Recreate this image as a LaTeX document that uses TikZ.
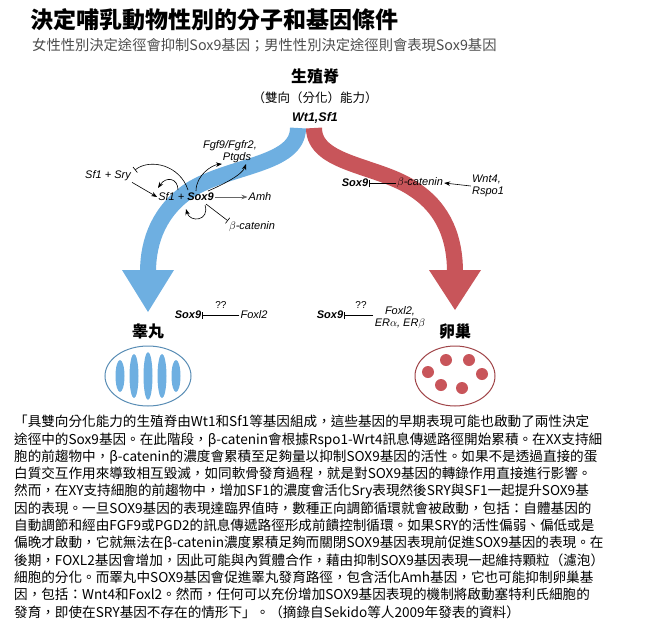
\documentclass[tikz,border=0pt]{standalone}
\usepackage{fontspec}
\setsansfont{Liberation Sans}
\newfontfamily\cjk{Noto Sans CJK TC}
\usetikzlibrary{arrows.meta}
\definecolor{testisblue}{RGB}{110,175,225}
\definecolor{ovaryred}{RGB}{200,85,90}
\tikzset{
  gene/.style={font=\sffamily\itshape\fontsize{11}{12}\selectfont, inner sep=1pt},
  reg/.style={-{Stealth[length=6pt]}, line width=.6pt},
  blocked/.style={-{Bar[width=7pt]}, line width=.6pt},
}
\begin{document}
\begin{tikzpicture}[x=1pt,y=-1pt]
  \useasboundingbox (0,0) rectangle (657,643);

  % headings
  \node[anchor=west, font=\cjk\bfseries\fontsize{23}{25}\selectfont, inner sep=0] (title) at (30,20) {決定哺乳動物性別的分子和基因條件};
  \node[anchor=west, font=\cjk\fontsize{14.3}{16}\selectfont, text=black!70, inner sep=0] (sub) at (32,45) {女性性別決定途徑會抑制Sox9基因；男性性別決定途徑則會表現Sox9基因};

  \node[font=\cjk\bfseries\fontsize{16}{18}\selectfont] (ridge) at (315,76) {生殖脊};
  \node[font=\cjk\fontsize{12.5}{14}\selectfont] (bip) at (315,98) {（雙向（分化）能力）};
  \node[gene, font=\sffamily\bfseries\itshape\fontsize{12.5}{14}\selectfont] (wt) at (315,118) {Wt1,Sf1};

  % the two fates
  \draw[testisblue, line width=16pt] (298,128) .. controls (298,165) and (230,165) .. (190,190)
    .. controls (160,210) and (148,240) .. (148,272);
  \fill[testisblue] (122,270) -- (174,270) -- (148,312) -- cycle;
  \draw[ovaryred, line width=16pt] (314,128) .. controls (314,165) and (380,165) .. (415,190)
    .. controls (445,210) and (455,240) .. (455,272);
  \fill[ovaryred] (429,270) -- (481,270) -- (455,310) -- cycle;

  % testis side
  \node[gene] (sfsry) at (108,176) {Sf1 + Sry};
  \node[gene] (sfsox) at (186,197) {Sf1 + \textbf{Sox9}};
  \node[gene] (amh) at (260,197) {Amh};
  \node[gene] (bcat) at (252,227) {$\beta$-catenin};
  \node[gene, align=center] (fgf) at (230,152) {Fgf9/Fgfr2,\\\hspace*{14pt}Ptgds};
  \draw[reg] (sfsry.south east) -- (sfsox.west);
  \draw[reg, black!60] (sfsox.east) -- (amh.west);
  \draw[blocked] (206,204) -- (bcat.north west);
  \draw[blocked] (188,190) .. controls (180,165) and (150,158) .. (135,170);
  \draw[reg] (178,190) .. controls (178,178) and (166,176) .. (158,188);
  \draw[reg] (196,191) .. controls (196,175) and (212,165) .. (222,164);
  \draw[reg] (208,191) .. controls (222,185) and (242,175) .. (246,164);
  \draw[reg] (205,205) .. controls (210,221) and (190,223) .. (186,209);

  \node[gene] (sox9l) at (188,315) {\textbf{Sox9}};
  \node[gene] (foxl) at (254,315) {Foxl2};
  \draw[blocked] (foxl.west) -- (sox9l.east);
  \node[gene, font=\sffamily\fontsize{10}{11}\selectfont] (qq1) at (221,305) {??};

  % ovary side
  \node[gene] (sox9r) at (355,183) {\textbf{Sox9}};
  \node[gene] (bcatr) at (420,183) {$\beta$-catenin};
  \node[gene, align=left] (wnt) at (488,186) {Wnt4,\\Rspo1};
  \draw[blocked] (bcatr.west) -- (sox9r.east);
  \draw[reg] (wnt.west) -- (bcatr.east);

  \node[gene] (sox9o) at (330,315) {\textbf{Sox9}};
  \node[gene, align=center] (foxo) at (400,318) {Foxl2,\\ER$\alpha$, ER$\beta$};
  \draw[blocked] (373,315) -- (sox9o.east);
  \node[gene, font=\sffamily\fontsize{10}{11}\selectfont] (qq2) at (361,305) {??};

  % gonads
  \node[font=\cjk\bfseries\fontsize{16}{18}\selectfont] (testis) at (148,331) {睾丸};
  \node[font=\cjk\bfseries\fontsize{16}{18}\selectfont] (ovary) at (455,331) {卵巢};
  \draw[testisblue!80!black, line width=1pt] (148,376) ellipse (43 and 30);
  \foreach \x/\r in {120/16,134/22,148/24,162/22,176/16}
    \fill[testisblue] (\x,376) ellipse (4.5 and \r);
  \draw[ovaryred!80!black, line width=1pt] (455,376) ellipse (40 and 30);
  \foreach \x/\y in {428/372,446/360,469/360,441/385,462/388,482/374}
    \fill[ovaryred] (\x,\y) circle (6);

  % caption
  \node[anchor=north west, align=left, inner sep=0, font=\cjk\fontsize{13.6}{17.3}\selectfont] (caption) at (14,415) {%
「具雙向分化能力的生殖脊由Wt1和Sf1等基因組成，這些基因的早期表現可能也啟動了兩性決定\\
途徑中的Sox9基因。在此階段，β-catenin會根據Rspo1-Wrt4訊息傳遞路徑開始累積。在XX支持細\\
胞的前趨物中，β-catenin的濃度會累積至足夠量以抑制SOX9基因的活性。如果不是透過直接的蛋\\
白質交互作用來導致相互毀滅，如同軟骨發育過程，就是對SOX9基因的轉錄作用直接進行影響。\\
然而，在XY支持細胞的前趨物中，增加SF1的濃度會活化Sry表現然後SRY與SF1一起提升SOX9基\\
因的表現。一旦SOX9基因的表現達臨界值時，數種正向調節循環就會被啟動，包括：自體基因的\\
自動調節和經由FGF9或PGD2的訊息傳遞路徑形成前饋控制循環。如果SRY的活性偏弱、偏低或是\\
偏晚才啟動，它就無法在β-catenin濃度累積足夠而關閉SOX9基因表現前促進SOX9基因的表現。在\\
後期，FOXL2基因會增加，因此可能與內質體合作，藉由抑制SOX9基因表現一起維持顆粒（濾泡）\\
細胞的分化。而睪丸中SOX9基因會促進睪丸發育路徑，包含活化Amh基因，它也可能抑制卵巢基\\
因，包括：Wnt4和Foxl2。然而，任何可以充份增加SOX9基因表現的機制將啟動塞特利氏細胞的\\
發育，即使在SRY基因不存在的情形下」。（摘錄自Sekido等人2009年發表的資料）};
\end{tikzpicture}
\end{document}
